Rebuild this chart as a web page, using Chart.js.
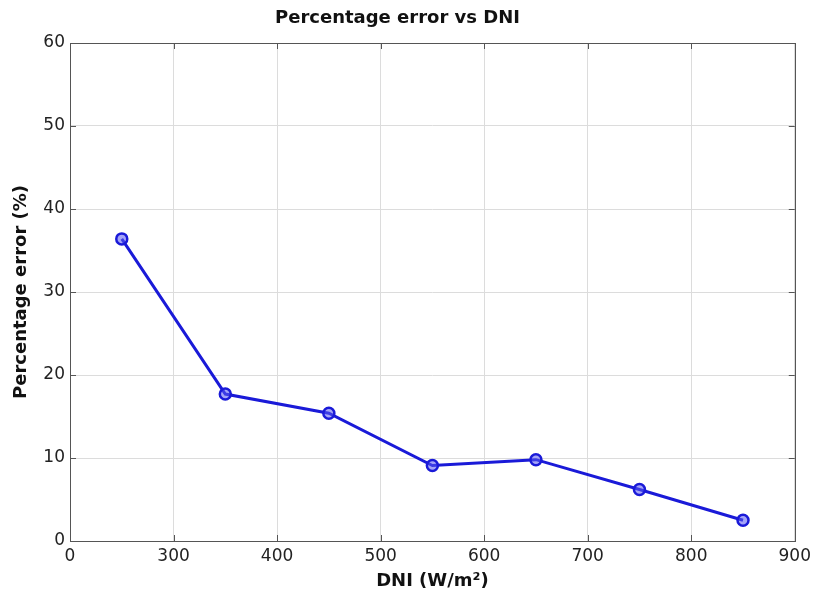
<!DOCTYPE html>
<html>
<head>
<meta charset="utf-8">
<script src="https://cdn.jsdelivr.net/npm/chart.js@4"></script>
<style>
  html, body { margin: 0; padding: 0; background: #fff; }
  #wrap { width: 816px; height: 603px; }
</style>
</head>
<body>
<div id="wrap"><canvas id="c" width="816" height="603"></canvas></div>
<script>
const chartTitle = 'Percentage error vs DNI';
const xTitle = 'DNI (W/m²)';
const yTitle = 'Percentage error (%)';
const dniValues = [250, 350, 450, 550, 650, 750, 850];
const errorValues = [36.4, 17.7, 15.4, 9.1, 9.8, 6.2, 2.5];
const xTickValues = [200, 300, 400, 500, 600, 700, 800, 900];
const xTickLabels = ['0', '300', '400', '500', '600', '700', '800', '900'];
const yTickValues = [0, 10, 20, 30, 40, 50, 60];

const points = dniValues.map((x, i) => ({ x: x, y: errorValues[i] }));
const FONT = 'DejaVu Sans, Liberation Sans, Arial, sans-serif';

const innerTicks = {
  id: 'innerTicks',
  afterDatasetsDraw(chart) {
    const { ctx, chartArea: a, scales } = chart;
    const len = 6;
    ctx.save();
    ctx.strokeStyle = '#555';
    ctx.lineWidth = 1;
    ctx.beginPath();
    xTickValues.forEach(v => {
      const px = Math.round(scales.x.getPixelForValue(v)) + 0.5;
      ctx.moveTo(px, a.bottom); ctx.lineTo(px, a.bottom - len);
      ctx.moveTo(px, a.top); ctx.lineTo(px, a.top + len);
    });
    yTickValues.forEach(v => {
      const py = Math.round(scales.y.getPixelForValue(v)) + 0.5;
      ctx.moveTo(a.left, py); ctx.lineTo(a.left + len, py);
      ctx.moveTo(a.right, py); ctx.lineTo(a.right - len, py);
    });
    ctx.stroke();
    ctx.strokeRect(Math.round(a.left) + 0.5, Math.round(a.top) + 0.5,
                   Math.round(a.right - a.left), Math.round(a.bottom - a.top));
    ctx.restore();
  }
};

new Chart(document.getElementById('c'), {
  type: 'line',
  data: {
    datasets: [{
      data: points,
      borderColor: '#1a1ad8',
      borderWidth: 3,
      pointRadius: 5.5,
      pointBorderWidth: 2.5,
      pointBorderColor: '#1a1ad8',
      pointBackgroundColor: 'rgba(90,90,240,0.55)',
      tension: 0,
      fill: false
    }]
  },
  options: {
    responsive: false,
    animation: false,
    layout: { padding: { left: 0, right: 21, top: 0, bottom: 0 } },
    plugins: {
      legend: { display: false },
      tooltip: { enabled: false },
      title: {
        display: true,
        text: chartTitle,
        color: '#111',
        font: { family: FONT, size: 18, weight: 'bold' },
        padding: { top: 8, bottom: 13.4 }
      }
    },
    scales: {
      x: {
        type: 'linear',
        min: 200,
        max: 900,
        afterBuildTicks: (scale) => { scale.ticks = xTickValues.map(v => ({ value: v })); },
        afterFit: (scale) => { scale.height = 62; },
        ticks: {
          autoSkip: false,
          maxRotation: 0,
          padding: 5,
          color: '#222',
          font: { family: FONT, size: 17 },
          callback: (v) => { const i = xTickValues.indexOf(v); return i >= 0 ? xTickLabels[i] : ''; }
        },
        grid: { color: '#dcdcdc', lineWidth: 1, drawTicks: false },
        border: { display: false },
        title: {
          display: true,
          text: xTitle,
          color: '#111',
          font: { family: FONT, size: 18, weight: 'bold' },
          padding: { top: 0, bottom: 11 }
        }
      },
      y: {
        type: 'linear',
        min: 0,
        max: 60,
        afterBuildTicks: (scale) => { scale.ticks = yTickValues.map(v => ({ value: v })); },
        afterFit: (scale) => { scale.width = 70; },
        ticks: {
          padding: 5,
          color: '#222',
          font: { family: FONT, size: 17 }
        },
        grid: { color: '#dcdcdc', lineWidth: 1, drawTicks: false },
        border: { display: false },
        title: {
          display: true,
          text: yTitle,
          color: '#111',
          font: { family: FONT, size: 18, weight: 'bold' },
          padding: { top: 11, bottom: 0 }
        }
      }
    }
  },
  plugins: [innerTicks]
});
</script>
</body>
</html>
